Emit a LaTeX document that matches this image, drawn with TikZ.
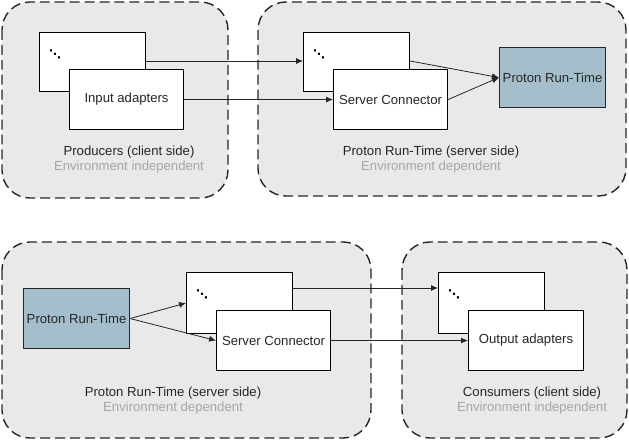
\documentclass[tikz,border=0pt]{standalone}
\usepackage{fontspec}
\setmainfont{Liberation Sans}
\newfontfamily\dotsfont{DejaVu Sans}
\usetikzlibrary{arrows.meta}
\definecolor{envgray}{HTML}{E9E9E9}
\definecolor{runblue}{HTML}{A4BFCB}
\definecolor{subgray}{HTML}{A6A6A6}
\tikzset{
  env/.style={draw=black!85, line width=1.4pt, dash pattern=on 10pt off 5pt, fill=envgray, rounded corners=28pt},
  box/.style={draw=black, line width=1.1pt, fill=white, inner sep=0pt},
  runbox/.style={draw=black!85, line width=1.1pt, fill=runblue, inner sep=0pt},
  lbl/.style={font=\fontsize{13.2}{15}\selectfont, text=black!85},
  sub/.style={font=\fontsize{13.2}{15}\selectfont, text=subgray},
  dts/.style={font=\dotsfont\bfseries\fontsize{12}{13}\selectfont, inner sep=0pt},
  conn/.style={line width=0.8pt, draw=black!85, -{Latex[length=7pt,width=6pt]}},
}
\begin{document}
\begin{tikzpicture}[x=1bp,y=-1bp]
\useasboundingbox (0,0) rectangle (629,440);
% containers
\draw[env] (2,2) rectangle (228,198);
\draw[env] (258,2) rectangle (626,196);
\draw[env] (2,242) rectangle (371,438);
\draw[env] (402,242) rectangle (627,438);
% top-left
\node[box, minimum width=106bp, minimum height=59bp, anchor=north west] (pb) at (39,32) {};
\node[dts] (d1) at (55,54) {⋱};
\node[box, minimum width=114bp, minimum height=60bp, anchor=north west, lbl] (ia) at (69,69) {Input adapters};
\node[lbl] (t1) at (129,152) {Producers (client side)};
\node[sub] (s1) at (129,167) {Environment independent};
% top-right
\node[box, minimum width=106bp, minimum height=59bp, anchor=north west] (sb1) at (303,32) {};
\node[dts] (d2) at (319,54) {⋱};
\node[box, minimum width=114bp, minimum height=60bp, anchor=north west, lbl] (sc1) at (333,69) {Server Connector};
\node[runbox, minimum width=106bp, minimum height=60bp, anchor=north west, lbl] (pr1) at (499,47) {Proton Run-Time};
\node[lbl] (t2) at (431,152) {Proton Run-Time (server side)};
\node[sub] (s2) at (431,167) {Environment dependent};
% bottom-left
\node[runbox, minimum width=106bp, minimum height=60bp, anchor=north west, lbl] (pr2) at (23,288) {Proton Run-Time};
\node[box, minimum width=106bp, minimum height=61bp, anchor=north west] (sb2) at (186,272) {};
\node[dts] (d3) at (202,294) {⋱};
\node[box, minimum width=114bp, minimum height=60bp, anchor=north west, lbl] (sc2) at (216,310) {Server Connector};
\node[lbl] (t3) at (173,393) {Proton Run-Time (server side)};
\node[sub] (s3) at (173,408) {Environment dependent};
% bottom-right
\node[box, minimum width=106bp, minimum height=61bp, anchor=north west] (ob) at (438,272) {};
\node[dts] (d4) at (454,294) {⋱};
\node[box, minimum width=115bp, minimum height=60bp, anchor=north west, lbl] (oa) at (468,310) {Output adapters};
\node[lbl] (t4) at (532,393) {Consumers (client side)};
\node[sub] (s4) at (532,408) {Environment independent};
% connectors
\draw[conn] (pb.east |- 0,61) -- (sb1.west |- 0,61);
\draw[conn] (ia.east) -- (sc1.west);
\draw[conn] (sb1.east |- 0,61) -- (pr1.west);
\draw[conn] (sc1.east) -- (pr1.west);
\draw[conn] (pr2.east) -- (sb2.west |- 0,303);
\draw[conn] (pr2.east) -- (sc2.west);
\draw[conn] (sb2.east |- 0,288) -- (ob.west |- 0,288);
\draw[conn] (sc2.east) -- (oa.west);
\end{tikzpicture}
\end{document}
